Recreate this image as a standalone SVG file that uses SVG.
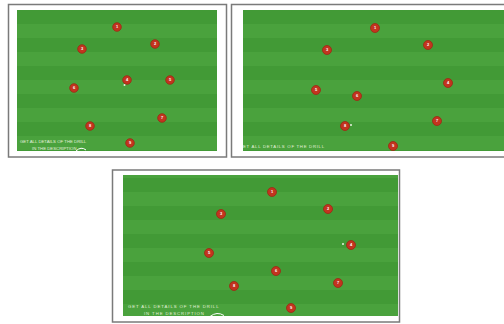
<svg xmlns="http://www.w3.org/2000/svg" width="504" height="324" viewBox="0 0 504 324">
<style>
.frame{fill:#ffffff;stroke:#7a7a7a;stroke-width:1.5}
.pl circle{fill:#c3341f;stroke:#9a2a14;stroke-width:0.8}
.pl text{fill:#ffffff;font-family:"Liberation Sans",Arial,sans-serif;font-size:4px;text-anchor:middle;font-weight:bold}
.cap{fill:#e4f0dc;font-family:"Liberation Sans",Arial,sans-serif;font-size:4.3px}
.swoosh{fill:none;stroke:#ffffff;stroke-width:1}
</style>
<defs>
<pattern id="stripes" patternUnits="userSpaceOnUse" x="0" y="10" width="10" height="28">
<rect x="0" y="0" width="10" height="14" fill="#429a36"/>
<rect x="0" y="14" width="10" height="14" fill="#4aa23d"/>
</pattern>
<clipPath id="c2"><rect x="243" y="10" width="261" height="141"/></clipPath>
</defs>
<rect width="504" height="324" fill="#ffffff"/>

<g id="panel1">
<rect class="frame" x="8.5" y="4.5" width="218" height="152.5"/>
<rect x="17" y="10" width="200" height="141" fill="url(#stripes)"/>
<g class="pl">
<circle cx="117" cy="27" r="4.3"/><text x="117" y="28.4">1</text>
<circle cx="155" cy="44" r="4.3"/><text x="155" y="45.4">2</text>
<circle cx="82" cy="49" r="4.3"/><text x="82" y="50.4">3</text>
<circle cx="127" cy="80" r="4.3"/><text x="127" y="81.4">4</text>
<circle cx="170" cy="80" r="4.3"/><text x="170" y="81.4">5</text>
<circle cx="74" cy="88" r="4.3"/><text x="74" y="89.4">6</text>
<circle cx="162" cy="118" r="4.3"/><text x="162" y="119.4">7</text>
<circle cx="90" cy="126" r="4.3"/><text x="90" y="127.4">8</text>
<circle cx="130" cy="143" r="4.3"/><text x="130" y="144.4">9</text>
</g>
<circle cx="124.5" cy="85" r="1" fill="#e8f2e0"/>
<text class="cap" x="20" y="143">GET ALL DETAILS OF THE DRILL</text>
<text class="cap" x="32" y="150">IN THE DESCRIPTION</text>
<path class="swoosh" d="M76 151 Q81 146 86 150"/>
</g>

<g id="panel2">
<rect class="frame" x="231.5" y="4.5" width="274" height="152.5"/>
<rect x="243" y="10" width="261" height="141" fill="url(#stripes)"/>
<g class="pl">
<circle cx="375" cy="28" r="4.5"/><text x="375" y="29.4">1</text>
<circle cx="428" cy="45" r="4.5"/><text x="428" y="46.4">2</text>
<circle cx="327" cy="50" r="4.5"/><text x="327" y="51.4">3</text>
<circle cx="448" cy="83" r="4.5"/><text x="448" y="84.4">4</text>
<circle cx="316" cy="90" r="4.5"/><text x="316" y="91.4">5</text>
<circle cx="357" cy="96" r="4.5"/><text x="357" y="97.4">6</text>
<circle cx="437" cy="121" r="4.5"/><text x="437" y="122.4">7</text>
<circle cx="345" cy="126" r="4.5"/><text x="345" y="127.4">8</text>
<circle cx="393" cy="146" r="4.5"/><text x="393" y="147.4">9</text>
</g>
<circle cx="351" cy="125" r="1" fill="#e8f2e0"/>
<g clip-path="url(#c2)">
<text class="cap" x="243" y="147.5" font-size="4.6" letter-spacing="0.7">ET ALL DETAILS OF THE DRILL</text>
</g>
</g>

<g id="panel3">
<rect class="frame" x="112.5" y="170" width="287" height="152"/>
<rect x="123" y="175" width="275" height="141" fill="url(#stripes)"/>
<g class="pl">
<circle cx="272" cy="192" r="4.5"/><text x="272" y="193.4">1</text>
<circle cx="328" cy="209" r="4.5"/><text x="328" y="210.4">2</text>
<circle cx="221" cy="214" r="4.5"/><text x="221" y="215.4">3</text>
<circle cx="351" cy="245" r="4.5"/><text x="351" y="246.4">4</text>
<circle cx="209" cy="253" r="4.5"/><text x="209" y="254.4">5</text>
<circle cx="276" cy="271" r="4.5"/><text x="276" y="272.4">6</text>
<circle cx="338" cy="283" r="4.5"/><text x="338" y="284.4">7</text>
<circle cx="234" cy="286" r="4.5"/><text x="234" y="287.4">8</text>
<circle cx="291" cy="308" r="4.5"/><text x="291" y="309.4">9</text>
</g>
<circle cx="343" cy="244" r="1" fill="#e8f2e0"/>
<text class="cap" x="128" y="308" font-size="4.6" letter-spacing="0.9">GET ALL DETAILS OF THE DRILL</text>
<text class="cap" x="144" y="315" font-size="4.6" letter-spacing="0.9">IN THE DESCRIPTION</text>
<path class="swoosh" d="M210 316.5 Q217 311 224 315.5"/>
</g>
</svg>
